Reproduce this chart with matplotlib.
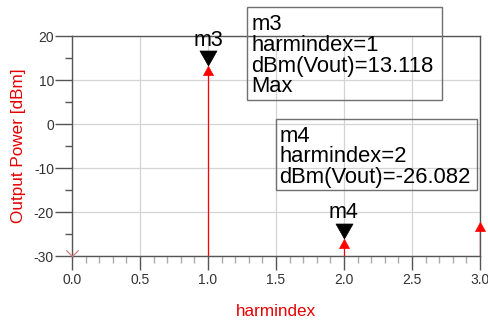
import numpy as np
import matplotlib
matplotlib.use('Agg')
import matplotlib.pyplot as plt
from matplotlib.patches import Rectangle
from matplotlib.ticker import MultipleLocator

plt.rcParams['font.family'] = ['Liberation Sans', 'DejaVu Sans']
plt.rcParams['axes.unicode_minus'] = False

# 数据
harmindex = [0, 1, 2, 3]
vout_dbm = [-120.0, 13.118, -26.082, -22.3]   # DC 分量远低于坐标下限
x_ticks = [0.0, 0.5, 1.0, 1.5, 2.0, 2.5, 3.0]
y_ticks = [-30, -20, -10, 0, 10, 20]
markers = {'m3': 1, 'm4': 2}
m3_text = 'm3\nharmindex=1\ndBm(Vout)=13.118\nMax'
m4_text = 'm4\nharmindex=2\ndBm(Vout)=-26.082'

W, H = 489, 323
fig = plt.figure(figsize=(W / 100, H / 100), dpi=100)
ax = fig.add_axes([72 / W, 1 - 256 / H, 408 / W, 220 / H])

ymin, ymax = y_ticks[0], y_ticks[-1]
ax.set_xlim(x_ticks[0], x_ticks[-1])
ax.set_ylim(ymin, ymax)

x = np.array(harmindex)
y = np.array(vout_dbm)
inside = y >= ymin

# 谱线 + 红色三角（顶点对准数据点）
ax.vlines(x[inside], ymin, y[inside], color='red', lw=0.9, zorder=3)
tri_up = [(0, 0), (-5, -9), (5, -9), (0, 0)]
ax.plot(x[inside], y[inside], ls='none', marker=tri_up, ms=13,
        mfc='red', mec='red', mew=0.5, zorder=4, clip_on=False)
# 超出下限的点画成开口的小 v
vee = [(-1, 1), (0, 0), (1, 1)]
ax.plot(x[~inside], np.full((~inside).sum(), ymin), ls='none', marker=vee, ms=9,
        mfc='none', mec='#d08080', mew=0.9, zorder=4, clip_on=False)

# 标记 m3 / m4
tri_down = [(0, 0.5), (-8.5, 15.5), (8.5, 15.5), (0, 0.5)]
for name, hx in markers.items():
    yv = vout_dbm[harmindex.index(hx)]
    ax.plot([hx], [yv], ls='none', marker=tri_down, ms=22.3, mfc='black',
            mec='black', mew=0.5, zorder=5, clip_on=False)
    ax.annotate(name, (hx, yv), xytext=(0, 14.8), textcoords='offset points',
                ha='center', va='baseline', fontsize=15.5, color='black',
                annotation_clip=False, zorder=6)

# 文本框（像素位置，左上角为原点）
def px_box(x0, y0, x1, y1):
    fig.patches.append(Rectangle((x0 / W, 1 - y1 / H), (x1 - x0) / W, (y1 - y0) / H,
                                 transform=fig.transFigure, fill=False,
                                 ec='#707070', lw=1.0, zorder=7))

# va='baseline' 对齐最后一行的基线
px_box(247, 7, 442, 100)
fig.text(251.5 / W, 1 - 92.5 / H, m3_text, ha='left', va='baseline',
         fontsize=15.8, linespacing=0.98, zorder=8)
px_box(276, 119, 477, 190)
fig.text(279.5 / W, 1 - 183.5 / H, m4_text, ha='left', va='baseline',
         fontsize=15.8, linespacing=1.0, zorder=8)

# 坐标轴样式
ax.set_xticks(x_ticks)
ax.set_xticklabels([f'{v:.1f}' for v in x_ticks])
ax.set_yticks(y_ticks)
ax.xaxis.set_minor_locator(MultipleLocator(0.1))
ax.yaxis.set_minor_locator(MultipleLocator(5))
ax.tick_params(axis='both', which='major', labelsize=10, labelcolor='#333333',
               color='#555555', width=1.0)
ax.tick_params(axis='x', which='major', length=10, pad=2.5)
ax.tick_params(axis='y', which='major', length=12, pad=1)
ax.tick_params(axis='x', which='minor', length=5, color='#aaaaaa', width=1.0)
ax.tick_params(axis='y', which='minor', length=5, color='#555555', width=1.0)
ax.tick_params(top=False, right=False, which='both')

for s in ax.spines.values():
    s.set_color('#555555')
    s.set_linewidth(1.0)

ax.grid(True, which='major', color='#d4d4d4', lw=0.9)
ax.set_axisbelow(True)

ax.set_xlabel('harmindex', fontsize=12.3, color='#e60000', va='center')
ax.set_ylabel('Output Power [dBm]', fontsize=12.3, color='#e60000', va='center')
ax.xaxis.set_label_coords(0.5, -(312 - 256) / 220)
ax.yaxis.set_label_coords(-(72 - 18) / 408, 0.5)

fig.savefig('out.png', dpi=100)
